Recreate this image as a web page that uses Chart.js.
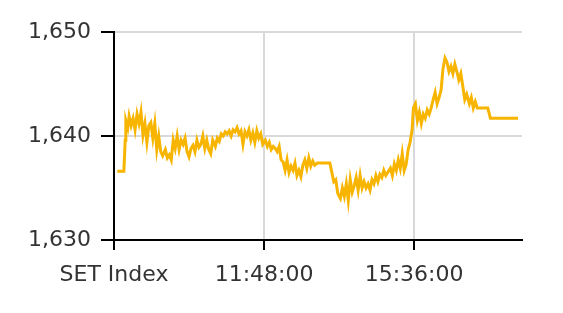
<!DOCTYPE html>
<html>
<head>
<meta charset="utf-8">
<script src="https://cdn.jsdelivr.net/npm/chart.js@4"></script>
<style>
  html, body { margin: 0; padding: 0; background: #fff; }
  #wrap { width: 563px; height: 313px; }
</style>
</head>
<body>
<div id="wrap"><canvas id="chart" width="563" height="313"></canvas></div>
<script>
// minutes after 08:00
const minutes = [
  5, 15, 17, 18, 21,
  23, 26, 29, 32, 35, 38, 41, 44, 47, 50, 53, 56, 59, 62, 65, 68, 71, 74, 78, 81,
  84, 87, 90, 93, 96, 99, 102, 105, 108, 111, 114, 117, 120, 123, 126, 129, 132, 135, 138, 141,
  144, 147, 150, 154, 157, 160, 163, 166, 169, 172, 175, 178, 181, 184, 187, 190, 193, 196, 199, 202,
  205, 208, 211, 214, 217, 220, 223, 226, 230, 233, 236, 239, 242, 245, 248, 251, 254, 257, 260, 263,
  266, 269, 272, 275, 278, 281, 284, 287, 290, 293, 296, 299, 302, 305, 309,
  328, 331, 334, 337, 340, 344, 347, 350, 353, 356, 359, 362, 365, 368, 371, 374, 377, 380, 383, 386,
  389, 392, 395, 398, 401, 404, 407, 410, 413, 416, 420, 423, 426, 429, 432, 435, 438, 441, 444, 447,
  450, 453,
  455, 458, 461, 464, 467, 470, 473, 476, 479, 482, 485, 488, 491, 494, 497, 500, 503, 506, 509, 512,
  515, 518, 521, 524, 527, 530, 533, 536, 540, 543, 546, 549, 552,
  556, 568, 572, 614
];
const setIndex = [
  1636.6, 1636.6, 1639.6, 1641.5, 1640.8,
  1641.9, 1641.0, 1641.7, 1640.6, 1642.1, 1641.2, 1642.3, 1640.1, 1641.2, 1639.4, 1641.0, 1641.3, 1639.8, 1641.2, 1638.7, 1640.0, 1638.5, 1638.1, 1638.7, 1637.9,
  1638.2, 1637.7, 1639.6, 1638.8, 1640.0, 1638.7, 1639.6, 1639.2, 1639.8, 1638.5, 1638.0, 1638.8, 1639.1, 1638.5, 1639.6, 1638.9, 1639.2, 1640.0, 1638.8, 1639.6,
  1638.7, 1638.3, 1639.6, 1639.0, 1639.8, 1639.5, 1640.2, 1640.0, 1640.4, 1640.2, 1640.5, 1640.0, 1640.6, 1640.4, 1640.8, 1640.2, 1640.5, 1639.2, 1640.4, 1640.0,
  1640.6, 1639.6, 1640.3, 1639.4, 1640.5, 1639.8, 1640.2, 1639.2, 1639.6, 1639.0, 1639.4, 1638.7, 1639.0, 1638.8, 1638.5, 1639.0, 1637.7, 1637.5, 1636.7, 1637.7,
  1636.5, 1637.1, 1636.7, 1637.4, 1636.2, 1636.7, 1636.1, 1637.2, 1637.7, 1636.9, 1637.9, 1637.1, 1637.6, 1637.2, 1637.4,
  1637.4, 1636.5, 1635.6, 1635.8, 1634.5, 1634.0, 1635.0, 1634.2, 1635.4, 1633.8, 1635.8, 1634.6, 1635.2, 1636.0, 1634.8, 1636.2, 1635.0, 1635.6, 1635.0, 1635.4,
  1634.8, 1635.8, 1635.4, 1636.2, 1635.6, 1636.3, 1636.0, 1636.7, 1636.2, 1636.5, 1636.9, 1636.2, 1637.3, 1636.7, 1637.7, 1636.9, 1638.3, 1636.7, 1637.3, 1638.7,
  1639.4, 1640.6,
  1642.7, 1643.1, 1641.5, 1642.3, 1641.2, 1642.1, 1641.7, 1642.5, 1642.1, 1642.7, 1643.5, 1644.2, 1643.1, 1643.7, 1644.4, 1646.5, 1647.5, 1647.1, 1646.2, 1646.7,
  1646.0, 1646.9, 1646.2, 1645.4, 1646.0, 1644.8, 1643.5, 1644.0, 1643.1, 1643.7, 1642.7, 1643.3, 1642.7,
  1642.7, 1642.7, 1641.7, 1641.7
];
const xTicks = [0, 228, 456];
const xTickLabels = ['SET Index', '11:48:00', '15:36:00'];
const yTicks = [1630, 1640, 1650];

const labelFont = { family: '"DejaVu Sans", sans-serif', size: 22 };

new Chart(document.getElementById('chart'), {
    type: 'line',
    data: {
        datasets: [{
            label: 'SET Index',
            data: minutes.map((m, i) => ({ x: m, y: setIndex[i] })),
            borderColor: '#f7b500',
            borderWidth: 3,
            pointRadius: 0,
            tension: 0,
            fill: false,
        }]
    },
    options: {
        responsive: false,
        animation: false,
        layout: {
            padding: { top: 32, right: 41, left: 0, bottom: 0 }
        },
        plugins: {
            legend: { display: false },
            tooltip: { enabled: false },
        },
        scales: {
            x: {
                type: 'linear',
                min: 0,
                max: 620,
                afterBuildTicks: s => { s.ticks = xTicks.map(v => ({ value: v })); },
                afterFit: s => { s.height = 73; },
                grid: { color: '#d9d9d9', lineWidth: 2, tickColor: '#000', tickLength: 10 },
                border: { color: '#000', width: 2 },
                ticks: {
                    font: labelFont,
                    color: '#333',
                    padding: 12,
                    maxRotation: 0,
                    autoSkip: false,
                    callback: v => xTickLabels[xTicks.indexOf(v)],
                }
            },
            y: {
                min: 1630,
                max: 1650,
                afterBuildTicks: s => { s.ticks = yTicks.map(v => ({ value: v })); },
                afterFit: s => { s.width = 114; },
                grid: { color: '#d9d9d9', lineWidth: 2, tickColor: '#000', tickLength: 13 },
                border: { color: '#000', width: 2 },
                ticks: {
                    font: labelFont,
                    color: '#333',
                    padding: 10,
                    callback: v => v.toLocaleString('en-US'),
                }
            }
        }
    },
});
</script>
</body>
</html>
